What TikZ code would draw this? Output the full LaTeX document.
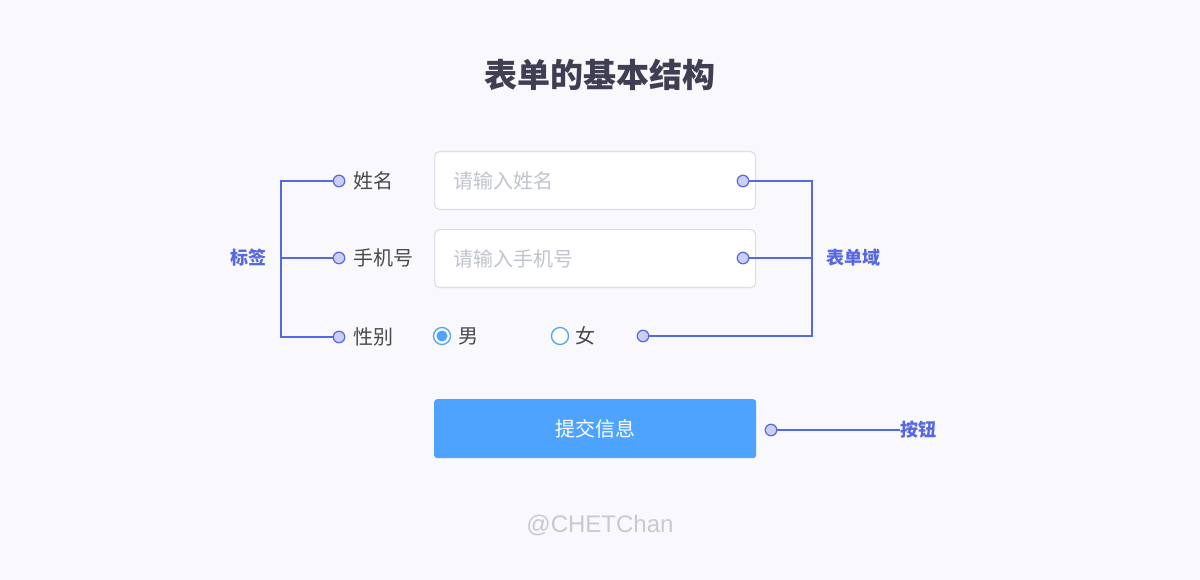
\documentclass[tikz,border=0pt]{standalone}
\usepackage{fontspec}
\setmainfont{Liberation Sans}
\newfontfamily\cjk{Noto Sans CJK SC}
\definecolor{pagebg}{HTML}{F8F8FD}
\definecolor{headcol}{HTML}{403E52}
\definecolor{labelcol}{HTML}{4A4A4A}
\definecolor{hintcol}{HTML}{C0C4CC}
\definecolor{boxline}{HTML}{DCDFE6}
\definecolor{btnblue}{HTML}{4EA3FF}
\definecolor{linkblue}{HTML}{5668E2}
\definecolor{dotfill}{HTML}{CBCFF7}
\definecolor{markgray}{HTML}{C9C9D6}
\usetikzlibrary{positioning}

\begin{document}
\begin{tikzpicture}[x=1pt, y=-1pt,
  field/.style={draw=boxline, fill=white, line width=1.2pt, rounded corners=5pt,
    minimum width=321pt, minimum height=58pt, anchor=north west, inner sep=0pt},
  hint/.style={font=\cjk\fontsize{20}{24}\selectfont, text=hintcol, inner sep=0pt},
  lbl/.style={font=\cjk\fontsize{20}{24}\selectfont, text=labelcol, inner sep=0pt},
  note/.style={font=\cjk\bfseries\fontsize{18}{22}\selectfont, text=linkblue, inner sep=0pt},
  dot/.style={circle, draw=linkblue, fill=dotfill, line width=1.2pt,
    minimum size=11.5pt, inner sep=0pt},
  link/.style={draw=linkblue, line width=1.2pt},
  radio/.style={circle, draw=btnblue, fill=white, line width=1.3pt,
    minimum size=17pt, inner sep=0pt},
  btn/.style={fill=btnblue, rounded corners=3pt, minimum width=322pt,
    minimum height=59pt, anchor=north west, inner sep=0pt, text=white,
    font=\cjk\fontsize{20}{24}\selectfont},
]
  \fill[pagebg] (0,0) rectangle (1200,580);
  \useasboundingbox (0,0) rectangle (1200,580);

  \node[font=\cjk\bfseries\fontsize{33}{38}\selectfont, text=headcol] (head) at (600,75)
    {表单的基本结构};

  % form fields
  \node[field] (f1) at (434,151) {};
  \node[field] (f2) at (434,229) {};
  \node[hint, right=19pt of f1.west] (h1) {请输入姓名};
  \node[hint, right=19pt of f2.west] (h2) {请输入手机号};

  % radios
  \node[radio] (r1) at (442,336) {};
  \fill[btnblue] (r1.center) circle (5.5pt);
  \node[lbl, right=7pt of r1] (male) {男};
  \node[radio] (r2) at (560,336) {};
  \node[lbl, right=6pt of r2] (female) {女};

  % submit
  \node[btn] (submit) at (434,399) {提交信息};

  % labels on the left
  \node[dot] (d1) at (339,181) {};
  \node[dot] (d2) at (339,258) {};
  \node[dot] (d3) at (339,337) {};
  \node[lbl, right=8pt of d1] (name) {姓名};
  \node[lbl, right=8pt of d2] (phone) {手机号};
  \node[lbl, right=8pt of d3] (sex) {性别};
  \coordinate (lb) at (281,258);
  \node[note, anchor=east] (tag) at (267,258) {标签};
  \draw[link] (d1.west) -- (d1.west -| lb) -- (d3.west -| lb) -- (d3.west);
  \draw[link] (d2.west) -- (lb);

  % fields on the right
  \node[dot] (d4) at (743,181) {};
  \node[dot] (d5) at (743,258) {};
  \node[dot] (d6) at (643,336) {};
  \coordinate (rb) at (812,258);
  \node[note, anchor=west] (area) at (826,258) {表单域};
  \draw[link] (d4.east) -- (d4.east -| rb) -- (d6.east -| rb) -- (d6.east);
  \draw[link] (d5.east) -- (rb);

  % button
  \node[dot] (d7) at (771,430) {};
  \node[note, anchor=west] (knob) at (900,430) {按钮};
  \draw[link] (d7.east) -- (knob.west);

  \node[font=\fontsize{24}{28}\selectfont, text=markgray] (credit) at (600,525) {@CHETChan};
\end{tikzpicture}
\end{document}
